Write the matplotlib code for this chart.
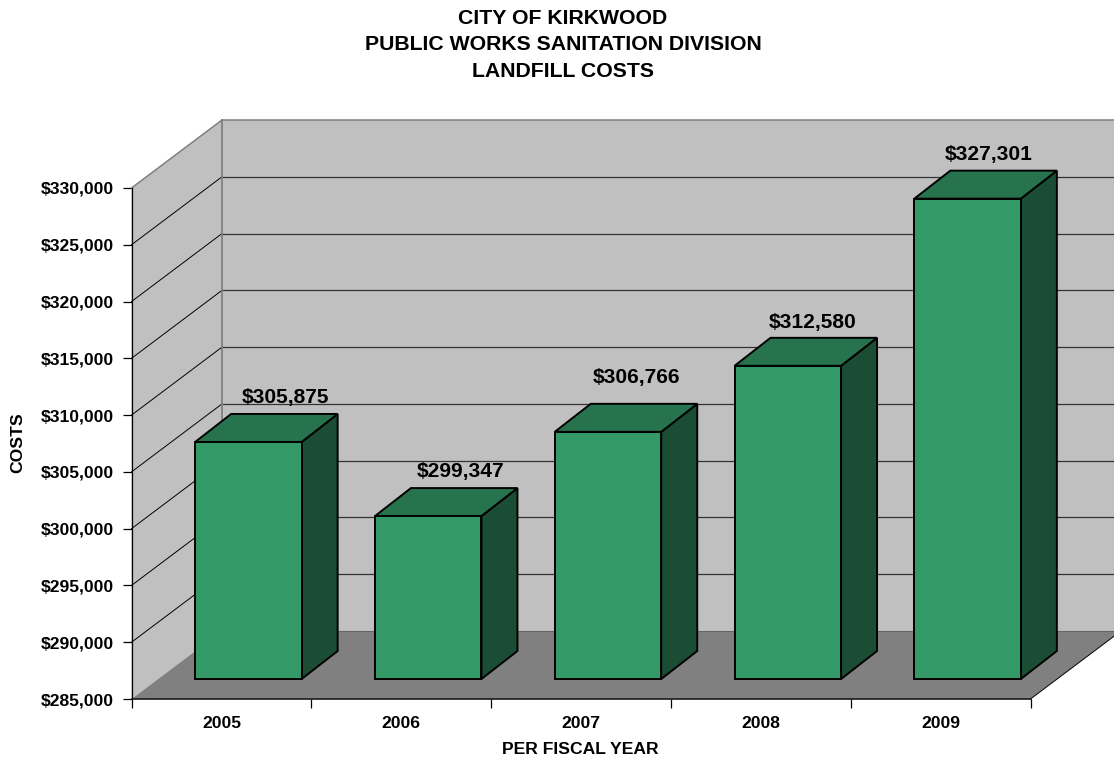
import matplotlib
matplotlib.use("Agg")
import matplotlib.pyplot as plt
from matplotlib.patches import Polygon

plt.rcParams['font.family'] = ['Liberation Sans', 'DejaVu Sans']

# ---- data ----
years = ["2005", "2006", "2007", "2008", "2009"]
costs = [305875, 299347, 306766, 312580, 327301]
cost_labels = ["$305,875", "$299,347", "$306,766", "$312,580", "$327,301"]
y_ticks = [285000, 290000, 295000, 300000, 305000, 310000, 315000, 320000, 325000, 330000]
title_lines = "CITY OF KIRKWOOD\nPUBLIC WORKS SANITATION DIVISION\nLANDFILL COSTS"
x_title = "PER FISCAL YEAR"
y_title = "COSTS"

# ---- layout / style ----
W, H = 1114, 757
L, R, T, B = 131.5, 1030.5, 188.0, 699.0
YMIN, YMAX = y_ticks[0], y_ticks[-1]
ux = (R - L) / len(years)            # px per category
uy = (B - T) / (YMAX - YMIN)         # px per value unit
DEPTH = (90.5 / ux, 68.0 / uy)       # wall depth
BAR_OFF = (27.0 / ux, 20.0 / uy)     # bar front plane offset
BAR_D = (36.0 / ux, 28.0 / uy)       # bar depth
BAR_W = 106.5 / ux
label_dx = [37, 32, 28, 25, 21]      # px from bar centre
label_dy = [44, 45, 54, 43, 44]      # px from bar front top
GREEN, GREEN_TOP, GREEN_SIDE = "#339966", "#26734D", "#1A4D33"
WALL, FLOOR, EDGE = "#C0C0C0", "#808080", "#808080"
FS = 12.6

fig = plt.figure(figsize=(W / 100, H / 100), dpi=100, facecolor="white")
ax = fig.add_axes([L / W, 1 - B / H, (R - L) / W, (B - T) / H])
ax.set_xlim(0, len(years))
ax.set_ylim(YMIN, YMAX)
ax.patch.set_visible(False)
for s in ("top", "right"):
    ax.spines[s].set_visible(False)
ax.spines["left"].set_linewidth(0.9)
ax.spines["bottom"].set_linewidth(1.2)
ax.spines["left"].set_zorder(6)
ax.spines["bottom"].set_zorder(6)
ax.spines["bottom"].set_color("#1a1a1a")

n = len(years)
dx, dy = DEPTH


def poly(pts, **kw):
    kw.setdefault("clip_on", False)
    ax.add_patch(Polygon(pts, closed=True, **kw))


# walls and floor
poly([(dx, YMIN + dy), (n + dx, YMIN + dy), (n + dx, YMAX + dy), (dx, YMAX + dy)],
     facecolor=WALL, edgecolor="none", zorder=1)
poly([(0, YMIN), (dx, YMIN + dy), (dx, YMAX + dy), (0, YMAX)],
     facecolor=WALL, edgecolor="none", zorder=1)
poly([(0, YMIN), (n, YMIN), (n + dx, YMIN + dy), (dx, YMIN + dy)],
     facecolor=FLOOR, edgecolor="none", zorder=2)

# gridlines (top level is the gray wall edge)
for v in y_ticks[1:-1]:
    ax.plot([0, dx], [v, v + dy], color="#000000", lw=0.7, clip_on=False, zorder=3)
    ax.plot([dx, n + dx], [v + dy, v + dy], color="#333333", lw=0.9, clip_on=False, zorder=3)
ax.plot([n, n + dx], [YMIN, YMIN + dy], color="#000000", lw=0.7, clip_on=False, zorder=3)
# gray wall edges
ax.plot([0, dx, n + dx], [YMAX, YMAX + dy, YMAX + dy], color=EDGE, lw=1.1, clip_on=False,
        zorder=3.1, solid_joinstyle="miter")
ax.plot([dx, dx], [YMIN + dy, YMAX + dy], color=EDGE, lw=1.3, clip_on=False, zorder=3.1)
ax.plot([dx, n + dx], [YMIN + dy, YMIN + dy], color="#666666", lw=0.8, clip_on=False, zorder=3.1)

# bars
ox, oy = BAR_OFF
bx, by = BAR_D
for i, v in enumerate(costs):
    x0 = i + 0.5 - BAR_W / 2 + ox
    x1 = x0 + BAR_W
    y0 = YMIN + oy
    y1 = v + oy
    kw = dict(edgecolor="black", lw=1.4, zorder=4, joinstyle="miter")
    poly([(x1, y0), (x1 + bx, y0 + by), (x1 + bx, y1 + by), (x1, y1)], facecolor=GREEN_SIDE, **kw)
    poly([(x0, y1), (x1, y1), (x1 + bx, y1 + by), (x0 + bx, y1 + by)], facecolor=GREEN_TOP, **kw)
    poly([(x0, y0), (x1, y0), (x1, y1), (x0, y1)], facecolor=GREEN, **kw)
    ax.annotate(cost_labels[i], xy=((x0 + x1) / 2, y1), xycoords="data",
                xytext=(label_dx[i] * 0.72, label_dy[i] * 0.72), textcoords="offset points",
                ha="center", va="center", fontsize=15.1, fontweight="bold",
                color="black", zorder=5, annotation_clip=False)

# axes, ticks
ax.set_yticks(y_ticks)
ax.set_yticklabels([f"${v:,}" for v in y_ticks], fontsize=FS, fontweight="bold")
ax.set_xticks(range(n + 1))
ax.set_xticklabels([""] * (n + 1))
ax.set_xticks([i + 0.5 for i in range(n)], years, minor=True, fontsize=FS, fontweight="bold")
ax.tick_params(axis="y", length=6.5, width=0.9, pad=6.5)
ax.tick_params(axis="x", which="major", length=6.5, width=0.9)
ax.tick_params(axis="x", which="minor", length=0, pad=12)

fig.text(17.5 / W, 1 - 443 / H, y_title, rotation=90, ha="center", va="center",
         fontsize=FS, fontweight="bold")
fig.text(580.5 / W, 1 - 749 / H, x_title, ha="center", va="center",
         fontsize=FS, fontweight="bold")
fig.text(563 / W, 1 - 45 / H, title_lines, ha="center", va="center",
         fontsize=15.3, fontweight="bold", linespacing=1.47)

fig.savefig("out.png", dpi=100, facecolor="white")
